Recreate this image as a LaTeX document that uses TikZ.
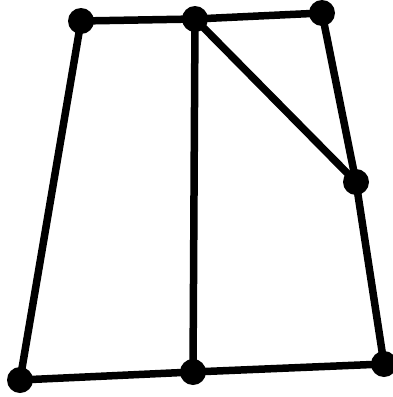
\documentclass[tikz,border=0pt]{standalone}
\begin{document}
\begin{tikzpicture}[x=1pt,y=-1pt,
  edge/.style={line width=7.5pt},
  dot/.style={circle,fill=black,inner sep=0pt,minimum size=26pt}]
\useasboundingbox (0,0) rectangle (393,397);
\coordinate (A) at (81,21);
\coordinate (B) at (195,19);
\coordinate (C) at (322,13);
\coordinate (D) at (356,182);
\coordinate (E) at (384,364);
\coordinate (F) at (193,372);
\coordinate (G) at (20,380);
\draw[edge] (A) -- (B) -- (C) -- (D) -- (E) -- (F) -- (G) -- (A);
\draw[edge] (B) -- (F);
\draw[edge] (B) -- (D);
\foreach \p in {A,B,C,D,E,F,G} \node[dot] (n\p) at (\p) {};
\end{tikzpicture}
\end{document}
